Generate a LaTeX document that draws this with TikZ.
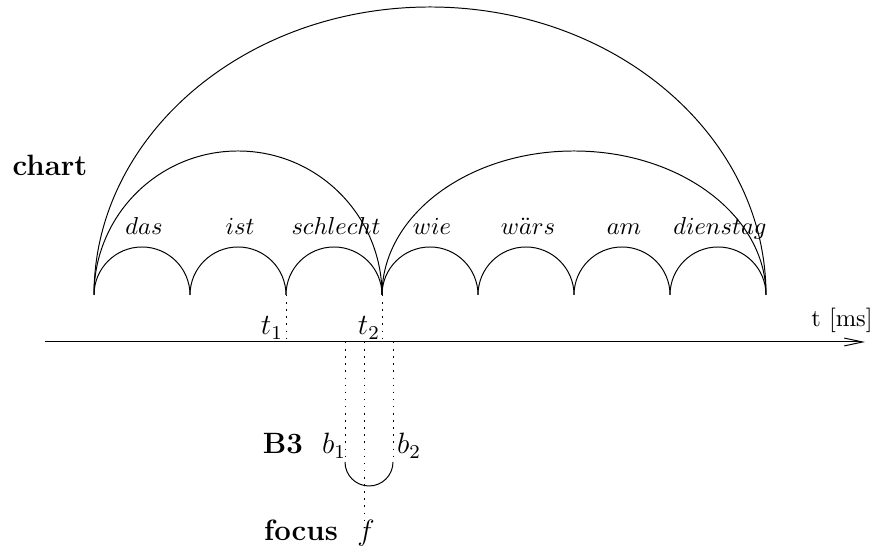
\documentclass[tikz,border=0pt]{standalone}
\usepackage{amsmath}
\usetikzlibrary{arrows.meta}

\begin{document}
\begin{tikzpicture}[
    x=0.408pt, y=0.408pt,
    >={Straight Barb[length=7.5pt, width=3.2pt]},
    word/.style={anchor=base, inner sep=0pt},
    lbl/.style={anchor=base, inner sep=0pt},
    mark lbl/.style={anchor=base, inner sep=0pt, font=\large},
    head/.style={anchor=base, inner sep=0pt, font=\large\bfseries},
    dotline/.style={dash pattern=on 0.6pt off 2.3pt},
]
\useasboundingbox (0,0) rectangle (875,550);

% ═══════════════════════════════════════════════════════════════════════════
%  Chart: word edges over the time axis
% ═══════════════════════════════════════════════════════════════════════════
\node[head] (chart) at (50,374) {chart};

% Word boundaries
\foreach \i in {0,...,7}
    \coordinate (w\i) at ({94+96*\i},255);

% One arc per word
\foreach \i in {0,...,6}
    \draw (w\i) arc[start angle=180, end angle=0, radius=48];

% Longer edges
\draw (w0) arc[start angle=180, end angle=0, radius=144];
\draw (w3) arc[start angle=180, end angle=0, x radius=192, y radius=144];
\draw (w0) arc[start angle=180, end angle=0, x radius=336, y radius=288];

% Words
\foreach \txt/\nm [count=\i from 0] in {das/das, ist/ist,
        schlecht/schlecht, wie/wie, w\ddot{a}rs/waers, am/am,
        dienstag/dienstag}
    \node[word] (\nm) at ({144+96*\i},315) {$\txt$};

% ═══════════════════════════════════════════════════════════════════════════
%  Time axis
% ═══════════════════════════════════════════════════════════════════════════
\coordinate (axL) at (45,208);
\coordinate (axR) at (865,208);
\draw[->] (axL) -- (axR);
\node[lbl] (tms) at (842,223) {t [ms]};

% Time stamps
\coordinate (t1) at (w2 |- axL);
\coordinate (t2) at (w3 |- axL);
\draw[dotline] (w2) -- (t1);
\draw[dotline] (w3) -- (t2);
\node[mark lbl] (t1lbl) at (272,215) {$t_1$};
\node[mark lbl] (t2lbl) at (369,215) {$t_2$};

% ═══════════════════════════════════════════════════════════════════════════
%  B3 and focus
% ═══════════════════════════════════════════════════════════════════════════
\coordinate (b1top) at (345,208);
\coordinate (b2top) at (393,208);
\coordinate (ftop) at (364,208);
\coordinate (b1) at (345,88);
\coordinate (b2) at (393,88);
\coordinate (fbot) at (364,23);

\draw[dotline] (b1top) -- (b1);
\draw[dotline] (b2top) -- (b2);
\draw[dotline] (ftop) -- (fbot);
\draw (b1) arc[start angle=180, end angle=360, radius=24];

\node[head] (B3) at (283,96) {B3};
\node[mark lbl] (b1lbl) at (334,96) {$b_1$};
\node[mark lbl] (b2lbl) at (409,96) {$b_2$};
\node[head] (focus) at (301,9) {focus};
\node[mark lbl] (flbl) at (366,9) {$f$};

\end{tikzpicture}
\end{document}
